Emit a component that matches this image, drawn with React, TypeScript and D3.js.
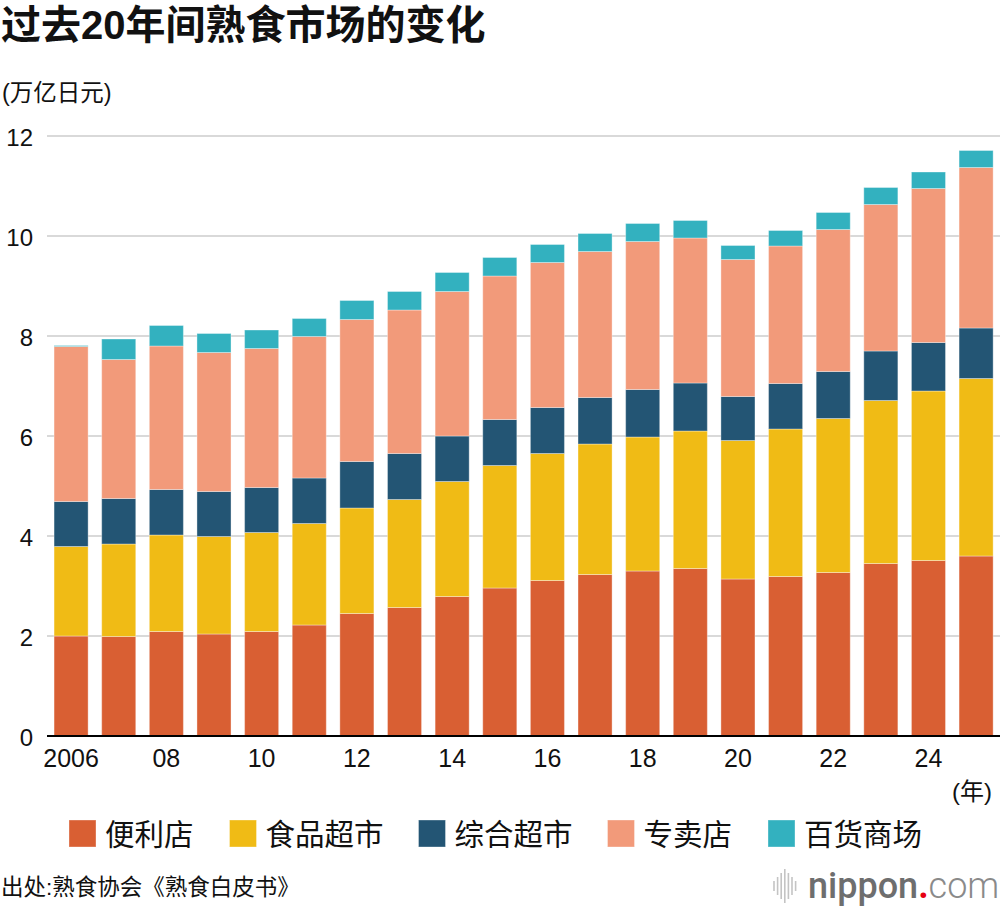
import { useEffect, useRef } from 'react';
import * as d3 from 'd3';

const years = d3.range(2006, 2026);
const tickYears = [2006, 2008, 2010, 2012, 2014, 2016, 2018, 2020, 2022, 2024];
const tickLabels = ['2006', '08', '10', '12', '14', '16', '18', '20', '22', '24'];
const yTicks = [0, 2, 4, 6, 8, 10, 12];

const seriesNames = ['便利店', '食品超市', '综合超市', '专卖店', '百货商场'];
const seriesColors = ['#d95f33', '#f0bb15', '#235574', '#f29a7a', '#33b1bf'];

// 万亿日元
const convenience = [2.00, 1.99, 2.09, 2.04, 2.09, 2.22, 2.45, 2.57, 2.79, 2.96, 3.11, 3.23, 3.30, 3.35, 3.14, 3.19, 3.27, 3.45, 3.51, 3.60];
const foodSuper = [1.79, 1.85, 1.93, 1.95, 1.98, 2.03, 2.11, 2.16, 2.30, 2.45, 2.54, 2.61, 2.68, 2.75, 2.77, 2.95, 3.08, 3.26, 3.39, 3.55];
const generalSuper = [0.90, 0.91, 0.91, 0.90, 0.90, 0.91, 0.93, 0.92, 0.91, 0.92, 0.92, 0.93, 0.95, 0.96, 0.88, 0.91, 0.94, 0.99, 0.97, 1.01];
const specialty = [3.10, 2.78, 2.87, 2.78, 2.78, 2.83, 2.84, 2.87, 2.89, 2.87, 2.90, 2.92, 2.96, 2.90, 2.74, 2.75, 2.84, 2.93, 3.08, 3.21];
const department = [0.02, 0.41, 0.41, 0.38, 0.37, 0.36, 0.38, 0.37, 0.38, 0.37, 0.36, 0.36, 0.36, 0.35, 0.28, 0.31, 0.34, 0.34, 0.33, 0.34];

const logoBars = [10, 18, 26, 34, 26, 18, 10];

const WIDTH = 1000;
const HEIGHT = 908;
const LATIN = '"Liberation Sans", Arial, "Noto Sans CJK SC", sans-serif';
const CJK = '"Liberation Sans", "Noto Sans CJK SC", sans-serif';

export default function App() {
  const svgRef = useRef<SVGSVGElement>(null);

  useEffect(() => {
    if (!svgRef.current) return;
    const svg = d3.select(svgRef.current);
    svg.selectAll('*').remove();

    const rows = years.map((year, i) => ({
      year,
      [seriesNames[0]]: convenience[i],
      [seriesNames[1]]: foodSuper[i],
      [seriesNames[2]]: generalSuper[i],
      [seriesNames[3]]: specialty[i],
      [seriesNames[4]]: department[i],
    }));

    const stacked = d3.stack<any>().keys(seriesNames)(rows);

    const x = d3.scaleBand<number>()
      .domain(years)
      .range([47.3, 999.9])
      .paddingInner(0.285)
      .paddingOuter(0.142);

    const y = d3.scaleLinear().domain([0, 12]).range([736, 136]);
    const color = d3.scaleOrdinal<string, string>().domain(seriesNames).range(seriesColors);

    // title and unit
    svg.append('text')
      .attr('x', 1).attr('y', 39)
      .attr('font-family', CJK)
      .attr('font-size', 40)
      .attr('font-weight', 700)
      .attr('fill', '#111')
      .text('过去20年间熟食市场的变化');

    svg.append('text')
      .attr('x', 2).attr('y', 101)
      .attr('font-family', CJK)
      .attr('font-size', 23.5)
      .attr('fill', '#111')
      .text('(万亿日元)');

    // gridlines
    svg.append('g')
      .selectAll('line')
      .data(yTicks.filter(d => d > 0))
      .join('line')
      .attr('x1', 47).attr('x2', WIDTH)
      .attr('y1', d => y(d)).attr('y2', d => y(d))
      .attr('stroke', '#cccccc')
      .attr('stroke-width', 1.5);

    // y tick labels
    svg.append('g')
      .selectAll('text')
      .data(yTicks)
      .join('text')
      .attr('x', 33)
      .attr('y', d => y(d) + 10)
      .attr('text-anchor', 'end')
      .attr('font-family', LATIN)
      .attr('font-size', 24)
      .attr('fill', '#111')
      .text(d => d);

    // bars
    svg.append('g')
      .selectAll('g')
      .data(stacked)
      .join('g')
      .attr('fill', d => color(d.key))
      .selectAll('rect')
      .data(d => d)
      .join('rect')
      .attr('x', d => x(d.data.year) as number)
      .attr('width', x.bandwidth())
      .attr('y', d => y(d[1]))
      .attr('height', d => y(d[0]) - y(d[1]))
      .attr('stroke', 'rgba(255,255,255,0.35)')
      .attr('stroke-width', 1);

    // baseline
    svg.append('line')
      .attr('x1', 47).attr('x2', WIDTH)
      .attr('y1', y(0)).attr('y2', y(0))
      .attr('stroke', '#000')
      .attr('stroke-width', 2.2);

    // x tick labels
    svg.append('g')
      .selectAll('text')
      .data(tickYears)
      .join('text')
      .attr('x', d => (x(d) as number) + x.bandwidth() / 2)
      .attr('y', 767)
      .attr('text-anchor', 'middle')
      .attr('font-family', LATIN)
      .attr('font-size', 25)
      .attr('fill', '#111')
      .text((_, i) => tickLabels[i]);

    svg.append('text')
      .attr('x', 992).attr('y', 800)
      .attr('text-anchor', 'end')
      .attr('font-family', CJK)
      .attr('font-size', 24)
      .attr('fill', '#111')
      .text('(年)');

    // legend
    const charW = 28.5;
    let lx = 69;
    const legend = svg.append('g');
    seriesNames.forEach(name => {
      const item = legend.append('g').attr('transform', `translate(${lx},820)`);
      item.append('rect')
        .attr('width', 27).attr('height', 27)
        .attr('fill', color(name))
        .attr('stroke', 'rgba(255,255,255,0.35)');
      item.append('text')
        .attr('x', 36).attr('y', 24.5)
        .attr('font-family', CJK)
        .attr('font-size', 29.5)
        .attr('fill', '#111')
        .text(name);
      lx += 27 + 10 + name.length * charW + 38;
    });

    // source
    svg.append('text')
      .attr('x', 1).attr('y', 895)
      .attr('font-family', CJK)
      .attr('font-size', 22.5)
      .attr('fill', '#111')
      .text('出处:熟食协会《熟食白皮书》');

    // nippon.com logo
    const logo = svg.append('g').attr('transform', 'translate(774,886)');
    logo.selectAll('line')
      .data(logoBars)
      .join('line')
      .attr('x1', (_, i) => i * 3.6).attr('x2', (_, i) => i * 3.6)
      .attr('y1', d => -d / 2).attr('y2', d => d / 2)
      .attr('stroke', '#c4c4c4')
      .attr('stroke-width', 1.6);
    const t = logo.append('text')
      .attr('x', 34).attr('y', 12)
      .attr('font-family', '"Roboto", "Liberation Sans", sans-serif')
      .attr('font-size', 36);
    t.append('tspan').attr('font-weight', 500).attr('fill', '#6e6e6e').text('nippon');
    t.append('tspan').attr('font-weight', 700).attr('fill', '#e60012').text('.');
    t.append('tspan').attr('font-weight', 300).attr('fill', '#8a8a8a').text('com');
  }, []);

  return (
    <div style={{ position: 'absolute', left: 0, top: 0 }}>
      <svg ref={svgRef} width={WIDTH} height={HEIGHT} style={{ display: 'block', background: '#fff' }} />
    </div>
  );
}
